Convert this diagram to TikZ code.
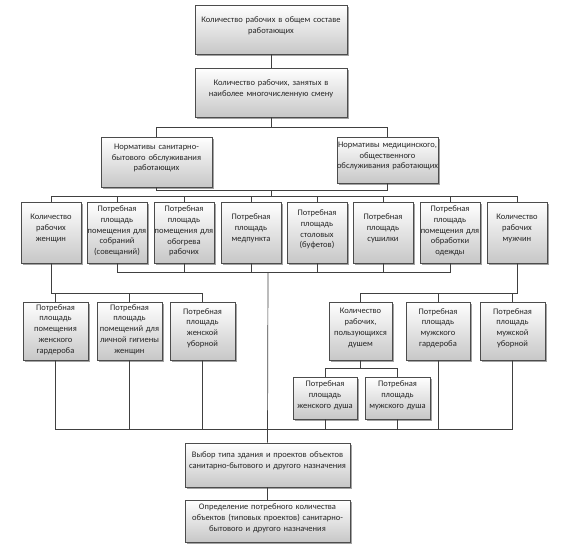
\documentclass[tikz,border=0pt]{standalone}
\usepackage{fontspec}
\setmainfont{Carlito}
\usetikzlibrary{shadows}
\tikzset{
  box/.style={draw=black!70, line width=0.7pt, rectangle, inner sep=0pt,
    top color=white, bottom color=black!22,
    drop shadow={shadow xshift=1.6pt, shadow yshift=-1.6pt, fill=black!45, opacity=0.8}},
  txt/.style={align=center, inner sep=0pt, font=\fontsize{8.5}{10.8}\selectfont, text=black!85},
  conn/.style={draw=black!75, line width=0.7pt}
}
% [text shift], name, x1, y1, x2, y2, text
\newcommand\bx[7][4]{%
  \node[box, minimum width={#5pt-#3pt}, minimum height={#6pt-#4pt}] (#2) at ({(#3+#5)/2},{(#4+#6)/2}) {};
  \node[txt, text width={#5pt-#3pt+20pt}] (#2-t) at ([yshift=#1pt]#2.center) {#7};
}
\begin{document}
\begin{tikzpicture}[x=1pt,y=-1pt]
\useasboundingbox (0,0) rectangle (561,551);

\bx{t1}{195}{5}{347}{54}{Количество рабочих в общем составе\\работающих}
\bx{t2}{195}{68}{347}{117}{Количество рабочих, занятых в\\наиболее многочисленную смену}
\bx{nl}{101}{137}{212}{187}{Нормативы санитарно-\\бытового обслуживания\\работающих}
\bx{nr}{337}{137}{438}{183}{Нормативы медицинского,\\общественного\\обслуживания работающих}

\bx{b1}{21}{202}{81}{263}{Количество\\рабочих\\женщин}
\bx[1.5]{b2}{87}{202}{147}{263}{Потребная\\площадь\\помещения для\\собраний\\(совещаний)}
\bx[1.5]{b3}{154}{202}{214}{263}{Потребная\\площадь\\помещения для\\обогрева\\рабочих}
\bx{b4}{221}{202}{281}{263}{Потребная\\площадь\\медпункта}
\bx[3]{b5}{287}{202}{347}{263}{Потребная\\площадь\\столовых\\(буфетов)}
\bx{b6}{353}{202}{413}{263}{Потребная\\площадь\\сушилки}
\bx[1.5]{b7}{420}{202}{480}{263}{Потребная\\площадь\\помещения для\\обработки\\одежды}
\bx{b8}{487}{202}{547}{263}{Количество\\рабочих\\мужчин}

\bx[1.5]{a}{23}{302}{88}{360}{Потребная\\площадь\\помещения\\женского\\гардероба}
\bx[1.5]{bb}{97}{302}{162}{360}{Потребная\\площадь\\помещений для\\личной гигиены\\женщин}
\bx[3]{c}{170}{302}{235}{360}{Потребная\\площадь\\женской\\уборной}
\bx[3]{d}{329}{302}{392}{360}{Количество\\рабочих,\\пользующихся\\душем}
\bx[3]{e}{406}{302}{470}{360}{Потребная\\площадь\\мужского\\гардероба}
\bx[3]{f}{480}{302}{545}{360}{Потребная\\площадь\\мужской\\уборной}
\bx[2.5]{g}{293}{377}{357}{419}{Потребная\\площадь\\женского душа}
\bx[2.5]{h}{365}{377}{430}{419}{Потребная\\площадь\\мужского душа}

\bx{v}{185}{443}{350}{487}{Выбор типа здания и проектов объектов\\санитарно-бытового и другого назначения}
\bx[2.5]{o}{185}{500}{350}{542}{Определение потребного количества\\объектов (типовых проектов) санитарно-\\бытового и другого назначения}

\coordinate (bus1) at (271,127);
\coordinate (bus2) at (271,190);
\coordinate (bus3) at (271,196);
\coordinate (bus4) at (268,272);
\coordinate (busL) at (0,293);
\coordinate (busR) at (0,293);
\coordinate (busD) at (0,368);
\coordinate (busB) at (0,429);

\draw[conn] (t1.south) -- (t2.north);
\draw[conn] (t2.south) -- (bus1);
\draw[conn] (nl.north) -- (nl.north |- bus1) -- (nr.north |- bus1) -- (nr.north);
\draw[conn] (nl.south) -- (nl.south |- bus2) -- (nr.south |- bus2) -- (nr.south);
\draw[conn] (bus2) -- (bus3);
\draw[conn] (b1.north) -- (b1.north |- bus3) -- (b8.north |- bus3) -- (b8.north);
\foreach \n in {b2,b3,b4,b5,b6,b7} \draw[conn] (\n.north) -- (\n.north |- bus3);

\draw[conn] (b2.south) -- (b2.south |- bus4) -- (b7.south |- bus4) -- (b7.south);
\foreach \n in {b3,b4,b5,b6} \draw[conn] (\n.south) -- (\n.south |- bus4);
\draw[conn] (bus4) -- (v.north);

\draw[conn] (b1.south) -- (b1.south |- busL) -- (c.north |- busL) -- (c.north);
\foreach \n in {a,bb} \draw[conn] (\n.north) -- (\n.north |- busL);

\draw[conn] (b8.south) -- (b8.south |- busR) -- (d.north |- busR) -- (d.north);
\foreach \n in {e,f} \draw[conn] (\n.north) -- (\n.north |- busR);

\draw[conn] (d.south) -- (d.south |- busD);
\draw[conn] (g.north) -- (g.north |- busD) -- (h.north |- busD) -- (h.north);

\draw[conn] (a.south) -- (a.south |- busB) -- (f.south |- busB) -- (f.south);
\foreach \n in {bb,c,g,h,e} \draw[conn] (\n.south) -- (\n.south |- busB);

\draw[conn] (v.south) -- (o.north);
\end{tikzpicture}
\end{document}
